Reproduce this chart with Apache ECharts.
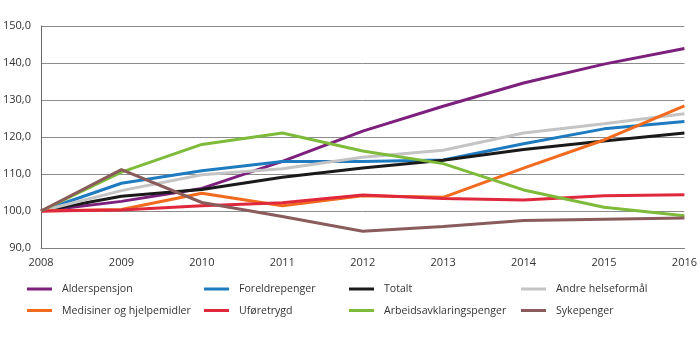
<!DOCTYPE html>
<html>
<head>
<meta charset="utf-8">
<script src="https://cdn.jsdelivr.net/npm/echarts@6/dist/echarts.min.js"></script>
<style>
  html, body { margin: 0; padding: 0; background: #fff; }
  #chart { width: 700px; height: 338px; }
</style>
</head>
<body>
<div id="chart"></div>
<script>
// Index, 2008 = 100
const years = ['2008', '2009', '2010', '2011', '2012', '2013', '2014', '2015', '2016'];

const alderspensjon    = [100, 102.6, 106.1, 113.4, 121.6, 128.3, 134.6, 139.7, 143.9];
const foreldrepenger   = [100, 107.5, 110.9, 113.4, 113.4, 113.8, 118.2, 122.2, 124.2];
const totalt           = [100, 104.0, 105.8, 109.1, 111.6, 113.7, 116.6, 118.9, 121.1];
const andreHelse       = [100, 105.5, 109.8, 111.4, 114.5, 116.4, 121.1, 123.6, 126.3];
const medisiner        = [100, 100.4, 104.8, 101.4, 104.1, 103.7, 111.6, 119.2, 128.4];
const uforetrygd       = [100, 100.3, 101.4, 102.2, 104.3, 103.4, 103.0, 104.1, 104.4];
const arbeidsavklaring = [100, 110.5, 118.0, 121.1, 116.2, 112.8, 105.7, 101.0, 98.7];
const sykepenger       = [100, 111.2, 102.3, 98.5, 94.5, 95.8, 97.4, 97.8, 98.1];

const seriesDefs = [
  { name: 'Alderspensjon', data: alderspensjon, color: '#7d1f7c' },
  { name: 'Foreldrepenger', data: foreldrepenger, color: '#1f7bc0' },
  { name: 'Totalt', data: totalt, color: '#1a1a1a' },
  { name: 'Andre helseformål', data: andreHelse, color: '#c4c4c4' },
  { name: 'Medisiner og hjelpemidler', data: medisiner, color: '#f26a1e' },
  { name: 'Uføretrygd', data: uforetrygd, color: '#e0283c' },
  { name: 'Arbeidsavklaringspenger', data: arbeidsavklaring, color: '#7fbb3a' },
  { name: 'Sykepenger', data: sykepenger, color: '#8a5b5b' }
];

const FONT = '"Open Sans", "Liberation Sans", sans-serif';
const legendText = { fontFamily: FONT, fontSize: 10.6, color: '#333', lineHeight: 14, padding: [0, 0, 0, 5] };

// four legend columns, two rows each
const legendCols = [
  { left: 27, names: ['Alderspensjon', 'Medisiner og hjelpemidler'] },
  { left: 204, names: ['Foreldrepenger', 'Uføretrygd'] },
  { left: 349, names: ['Totalt', 'Arbeidsavklaringspenger'] },
  { left: 521, names: ['Andre helseformål', 'Sykepenger'] }
];

const chart = echarts.init(document.getElementById('chart'), null, { renderer: 'canvas' });
chart.setOption({
  animation: false,
  backgroundColor: '#ffffff',
  grid: { left: 38, right: 12, top: 26, bottom: 90, containLabel: false },
  legend: legendCols.map(c => ({
    orient: 'vertical',
    left: c.left,
    top: 282,
    padding: 0,
    itemGap: 7.5,
    itemWidth: 25,
    itemHeight: 3,
    icon: 'rect',
    selectedMode: false,
    data: c.names,
    textStyle: legendText
  })),
  xAxis: {
    type: 'category',
    data: years,
    boundaryGap: false,
    axisLine: { show: true, lineStyle: { color: '#808080', width: 1 } },
    axisTick: { show: false },
    axisLabel: { color: '#333', fontFamily: FONT, fontSize: 11, margin: 9 }
  },
  yAxis: {
    type: 'value',
    min: 90,
    max: 150,
    interval: 10,
    axisLine: { show: true, lineStyle: { color: '#666', width: 1 } },
    axisTick: { show: false },
    splitLine: { show: true, lineStyle: { color: '#8c8c8c', width: 1 } },
    axisLabel: {
      color: '#333', fontFamily: FONT, fontSize: 11, margin: 10,
      formatter: v => v.toFixed(1).replace('.', ',')
    }
  },
  series: seriesDefs.map(s => ({
    name: s.name,
    type: 'line',
    data: s.data,
    symbol: 'none',
    smooth: false,
    color: s.color,
    lineStyle: { width: 3, color: s.color }
  }))
});
</script>
</body>
</html>
